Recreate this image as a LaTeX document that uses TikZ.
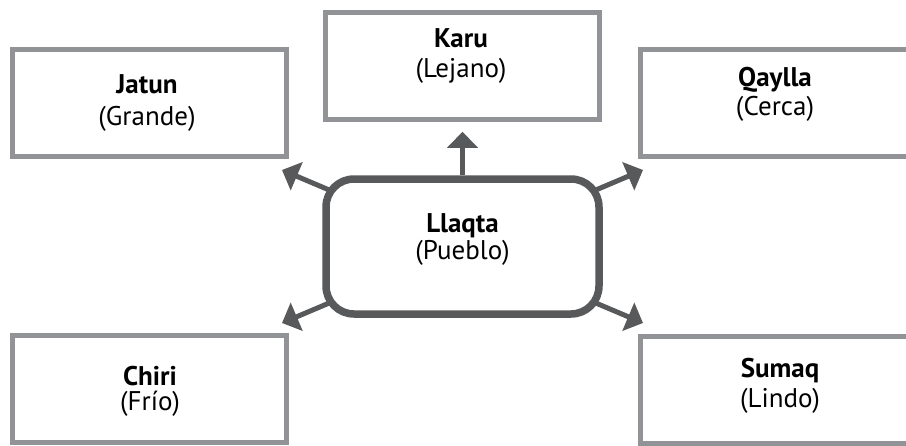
\documentclass[tikz,border=0pt]{standalone}
\usepackage{fontspec}
\setmainfont{PT Sans}
\usetikzlibrary{arrows.meta, positioning, backgrounds}
\definecolor{boxgray}{RGB}{146,147,150}
\definecolor{hubgray}{RGB}{88,89,91}

\begin{document}
\begin{tikzpicture}[
    x=1pt, y=-1pt,
    wordbox/.style={draw=boxgray, line width=5pt, rectangle, minimum width=274pt, minimum height=107pt, fill=white, inner sep=0pt},
    hub/.style={draw=hubgray, line width=7.5pt, rectangle, rounded corners=28pt, minimum width=273pt, minimum height=135pt, fill=white, inner sep=0pt},
    word/.style={anchor=base, inner sep=0pt, font=\fontsize{27}{27}\selectfont\bfseries},
    gloss/.style={anchor=base, inner sep=0pt, font=\fontsize{27}{27}\selectfont},
    spoke/.style={draw=hubgray, line width=5pt, -{Triangle[length=16pt, width=30pt]}}
]
    \useasboundingbox (0,0) rectangle (906,445);

    % --- Centre ---
    \node[hub] (llaqta) at (462.5,246.5) {};

    % --- Word boxes ---
    \node[wordbox] (jatun) at (149,102.75) {};
    \node[wordbox] (karu) at (462.5,65.75) {};
    \node[wordbox] (qaylla) at (777,103.25) {};
    \node[wordbox] (chiri) at (149,389.25) {};
    \node[wordbox] (sumaq) at (777,389.75) {};

    % --- Arrow tips ---
    \coordinate (jatunTip) at (282,170);
    \coordinate (qayllaTip) at (643,170);
    \coordinate (chiriTip) at (282,323);
    \coordinate (sumaqTip) at (643,323);

    % --- Spokes ---
    \begin{scope}[on background layer]
        \draw[spoke, shorten >=10pt] (llaqta) -- (karu);
        \draw[spoke] (llaqta.center) -- (jatunTip);
        \draw[spoke] (llaqta.center) -- (qayllaTip);
        \draw[spoke] (llaqta.center) -- (chiriTip);
        \draw[spoke] (llaqta.center) -- (sumaqTip);
    \end{scope}

    % --- Texts ---
    \node[word] (llaqtaW) at (462.5,232) {Llaqta};
    \node[gloss] (llaqtaG) at (462.5,259) {(Pueblo)};
    \node[word] (jatunW) at (147,93) {Jatun};
    \node[gloss] (jatunG) at (147,125) {(Grande)};
    \node[word] (karuW) at (461,47) {Karu};
    \node[gloss] (karuG) at (461,77) {(Lejano)};
    \node[word] (qayllaW) at (775,86) {Qaylla};
    \node[gloss] (qayllaG) at (775,115) {(Cerca)};
    \node[word] (chiriW) at (150,385) {Chiri};
    \node[gloss] (chiriG) at (150,410) {(Frío)};
    \node[word] (sumaqW) at (780,377) {Sumaq};
    \node[gloss] (sumaqG) at (780,407) {(Lindo)};

\end{tikzpicture}
\end{document}
